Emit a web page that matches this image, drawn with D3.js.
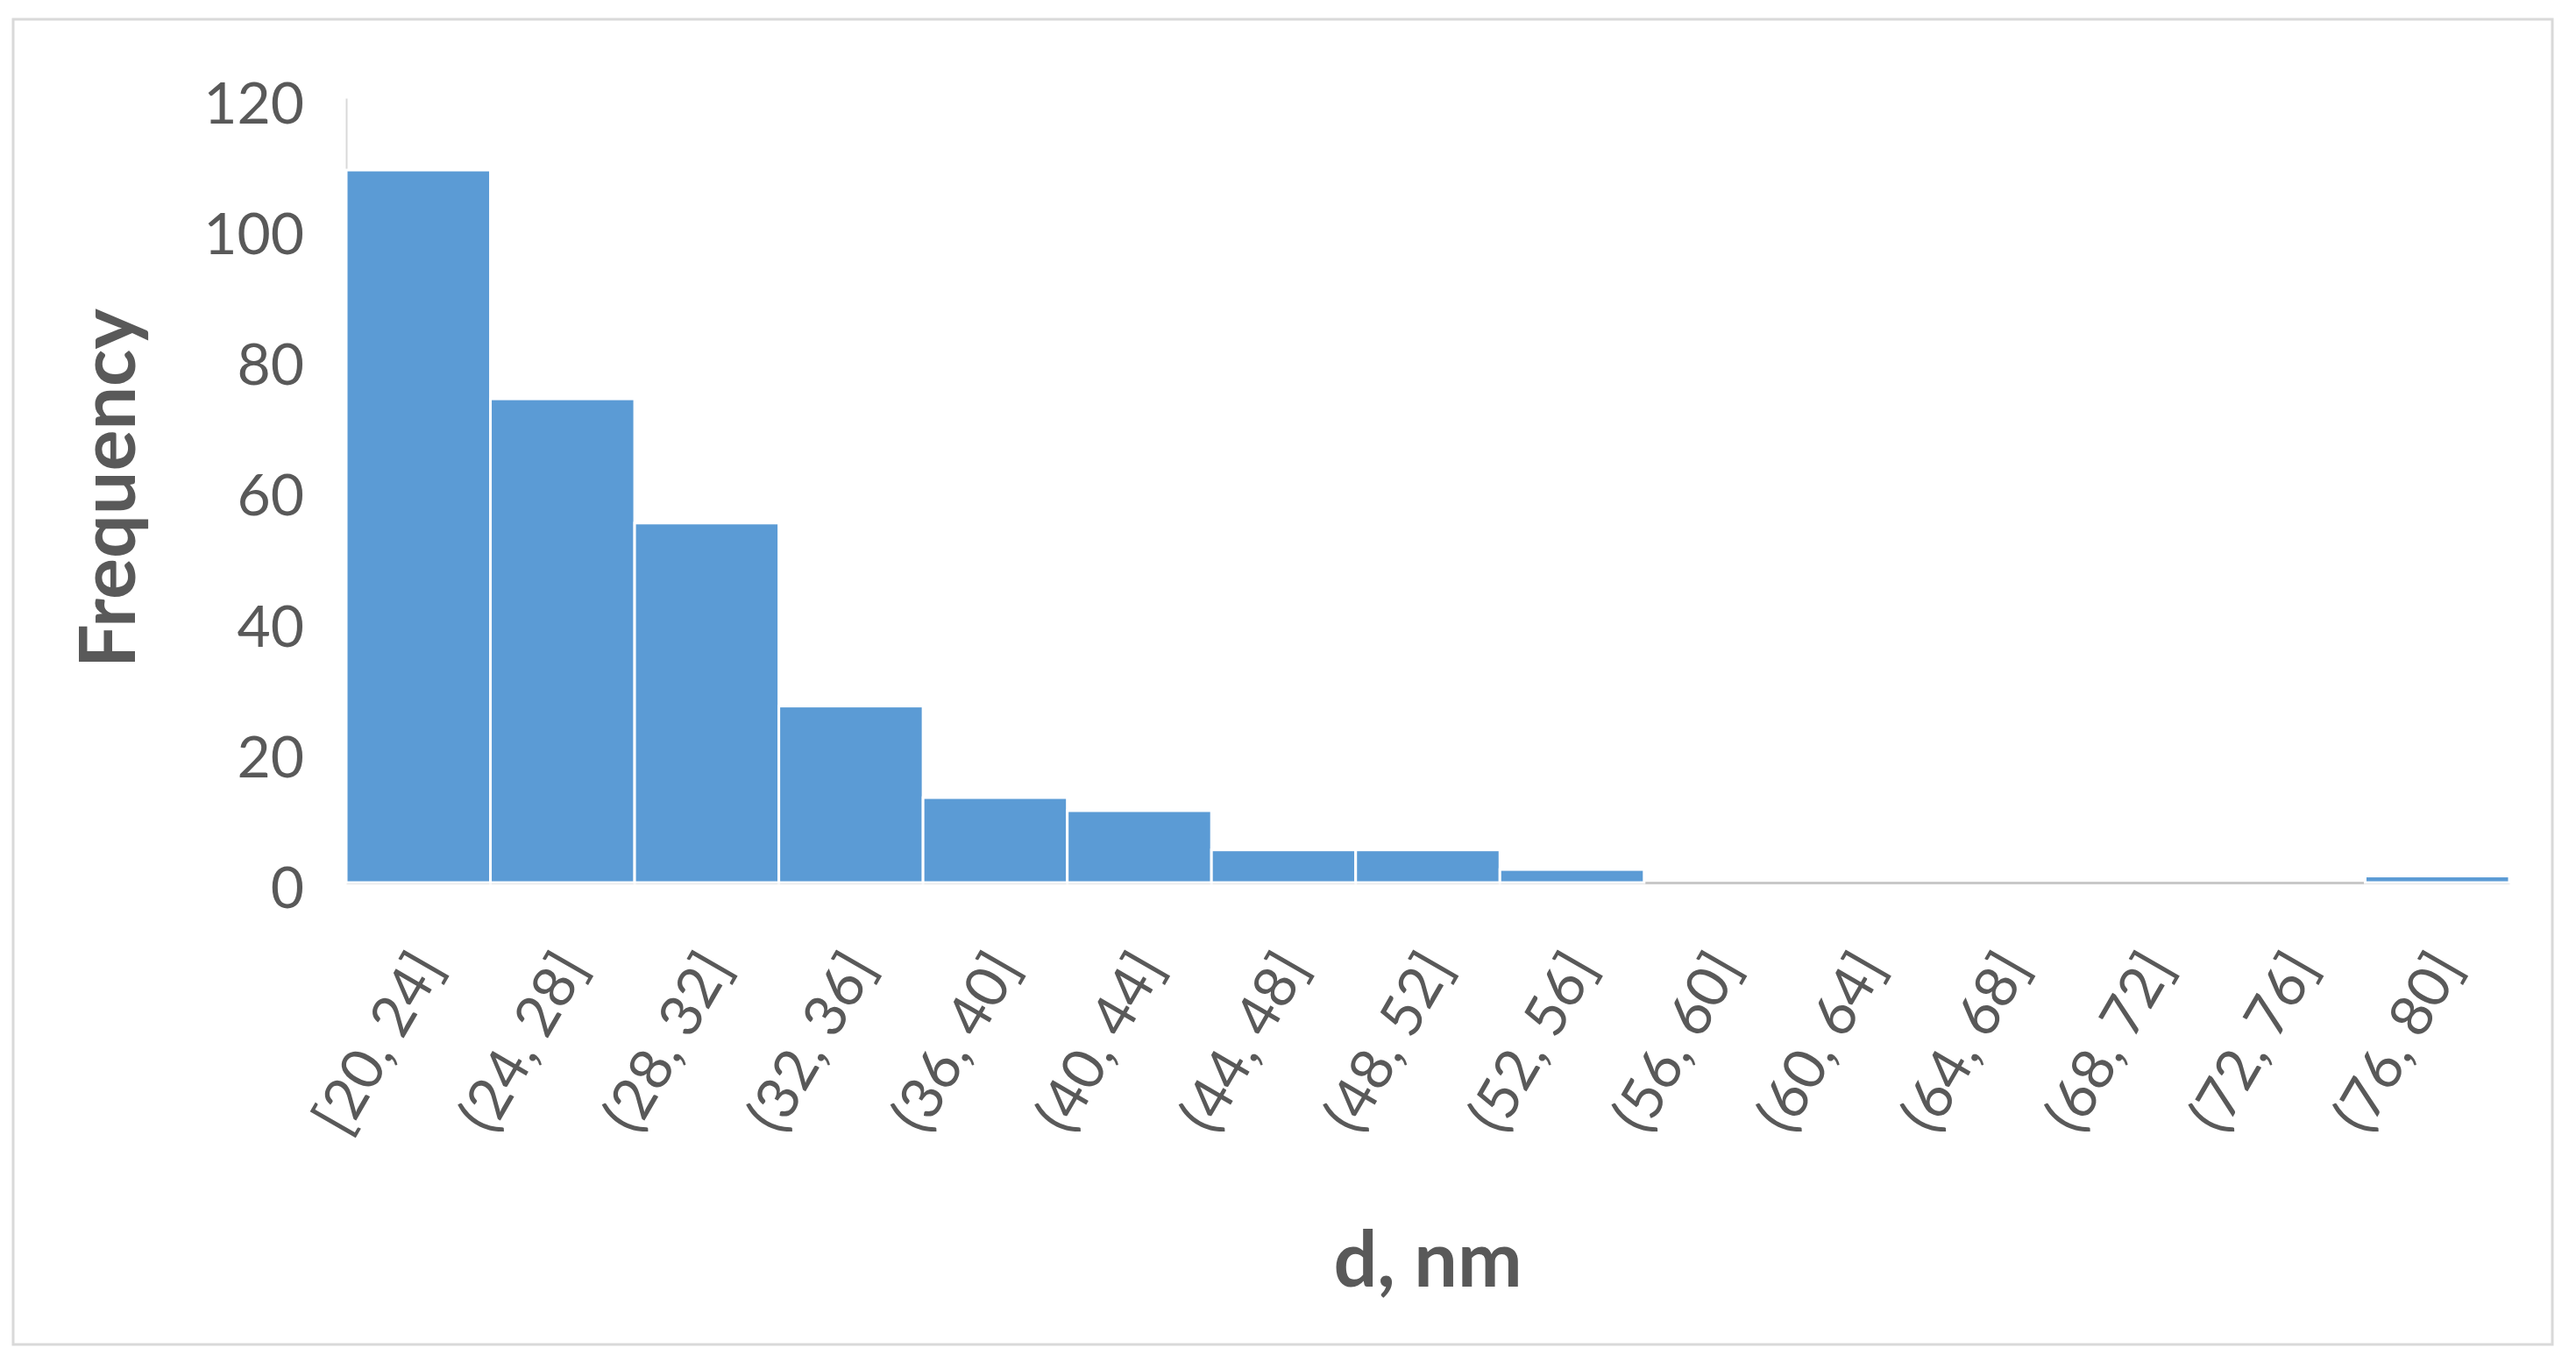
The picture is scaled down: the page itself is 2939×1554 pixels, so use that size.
<!DOCTYPE html>
<html>
<head>
<meta charset="utf-8">
<script src="https://cdn.jsdelivr.net/npm/d3@7"></script>
<style>
  html, body { margin: 0; padding: 0; background: #ffffff; }
  svg { display: block; }
</style>
</head>
<body>
<script>
// ---- data ----
const categories = ["[20, 24]", "(24, 28]", "(28, 32]", "(32, 36]", "(36, 40]",
  "(40, 44]", "(44, 48]", "(48, 52]", "(52, 56]", "(56, 60]",
  "(60, 64]", "(64, 68]", "(68, 72]", "(72, 76]", "(76, 80]"];
const frequencies = [109, 74, 55, 27, 13, 11, 5, 5, 2, 0, 0, 0, 0, 0, 1];
const yTicks = [0, 20, 40, 60, 80, 100, 120];
const yTitle = "Frequency";
const xTitle = "d, nm";

// ---- layout ----
const W = 2939, H = 1554;
const plot = { left: 395, right: 2863, top: 112, bottom: 1007 };
const textColor = "#595959";
const fontFam = "Lato, 'Open Sans', sans-serif";

const svg = d3.select("body").append("svg")
  .attr("width", W).attr("height", H);

svg.append("rect").attr("x", 0).attr("y", 0).attr("width", W).attr("height", H).attr("fill", "#fff");
// chart frame
svg.append("rect")
  .attr("x", 15).attr("y", 22).attr("width", 2912 - 15).attr("height", 1534 - 22)
  .attr("fill", "#fff").attr("stroke", "#d9d9d9").attr("stroke-width", 3);

const x = d3.scaleBand().domain(categories).range([plot.left, plot.right]).padding(0);
const y = d3.scaleLinear().domain([0, 120]).range([plot.bottom, plot.top]);

// y axis
const gy = svg.append("g").attr("transform", `translate(${plot.left},0)`)
  .call(d3.axisLeft(y).tickValues(yTicks).tickSize(0).tickSizeOuter(0).tickPadding(48));
gy.select(".domain").attr("stroke", "#d9d9d9").attr("stroke-width", 2);
gy.selectAll(".tick text")
  .attr("fill", textColor).attr("font-family", fontFam).attr("font-size", 66)
  .attr("dy", "0.43em");

// x axis
const gx = svg.append("g").attr("transform", `translate(0,${plot.bottom})`)
  .call(d3.axisBottom(x).tickSize(0).tickSizeOuter(0));
gx.select(".domain").attr("stroke", "#c8c8c8").attr("stroke-width", 3);
gx.selectAll(".tick text")
  .attr("fill", textColor).attr("font-family", fontFam).attr("font-size", 66)
  .attr("x", 0).attr("y", 0).attr("dy", "0.35em")
  .attr("text-anchor", "end")
  .attr("transform", "translate(10,85) rotate(-60)");

// bars
svg.append("g").selectAll("rect.bar")
  .data(frequencies)
  .join("rect")
  .attr("class", "bar")
  .attr("x", (d, i) => x(categories[i]))
  .attr("width", x.bandwidth())
  .attr("y", d => y(d))
  .attr("height", d => y(0) - y(d))
  .attr("fill", "#5b9bd5")
  .attr("stroke", "#ffffff")
  .attr("stroke-width", d => d > 0 ? 3 : 0);

// axis titles
svg.append("text")
  .attr("transform", `translate(154,557) rotate(-90)`)
  .attr("text-anchor", "middle")
  .attr("fill", textColor).attr("font-family", fontFam).attr("font-weight", 700)
  .attr("font-size", 88)
  .text(yTitle);

svg.append("text")
  .attr("x", (plot.left + plot.right) / 2).attr("y", 1468)
  .attr("text-anchor", "middle")
  .attr("fill", textColor).attr("font-family", fontFam).attr("font-weight", 700)
  .attr("font-size", 88)
  .text(xTitle);
</script>
</body>
</html>
